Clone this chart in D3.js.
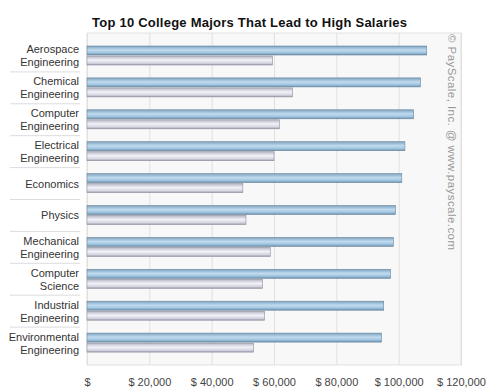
<!DOCTYPE html>
<html>
<head>
<meta charset="utf-8">
<script src="https://cdn.jsdelivr.net/npm/d3@7"></script>
<style>
  body { margin: 0; background: #fff; }
  text { font-family: "Liberation Sans", Arial, sans-serif; }
</style>
</head>
<body>
<svg width="490" height="392"></svg>
<script>
const majors = [
  ['Aerospace', 'Engineering'],
  ['Chemical', 'Engineering'],
  ['Computer', 'Engineering'],
  ['Electrical', 'Engineering'],
  ['Economics'],
  ['Physics'],
  ['Mechanical', 'Engineering'],
  ['Computer', 'Science'],
  ['Industrial', 'Engineering'],
  ['Environmental', 'Engineering']
]
const midCareer = [109000, 107000, 104800, 102000, 101000, 99000, 98300, 97400, 95200, 94500]
const starting = [59500, 65900, 61700, 60000, 50000, 51000, 58800, 56300, 57000, 53400]
const ticks = [0, 20000, 40000, 60000, 80000, 100000, 120000]

const svg = d3.select('svg')
const plotL = 87, plotR = 461, plotT = 33, plotB = 365

const defs = svg.append('defs')
const blue = defs.append('linearGradient').attr('id', 'blue').attr('x1', 0).attr('x2', 0).attr('y1', 0).attr('y2', 1)
blue.append('stop').attr('offset', '0%').attr('stop-color', '#7fa3bf')
blue.append('stop').attr('offset', '45%').attr('stop-color', '#c0dbef')
blue.append('stop').attr('offset', '75%').attr('stop-color', '#a2c5e0')
blue.append('stop').attr('offset', '100%').attr('stop-color', '#6d8fab')
const grey = defs.append('linearGradient').attr('id', 'grey').attr('x1', 0).attr('x2', 0).attr('y1', 0).attr('y2', 1)
grey.append('stop').attr('offset', '0%').attr('stop-color', '#b4b6c4')
grey.append('stop').attr('offset', '45%').attr('stop-color', '#f2f2f8')
grey.append('stop').attr('offset', '80%').attr('stop-color', '#d4d5e0')
grey.append('stop').attr('offset', '100%').attr('stop-color', '#9a9cab')

const x = d3.scaleLinear().domain([0, 120000]).range([plotL, plotR])
const y = d3.scaleBand().domain(d3.range(majors.length)).range([40, 359])

// plot background
svg.append('rect')
  .attr('x', plotL).attr('y', plotT)
  .attr('width', plotR - plotL).attr('height', plotB - plotT)
  .attr('fill', '#f8f8f8').attr('stroke', '#e2e2e2')

// grid + tick labels
svg.append('g')
  .attr('transform', `translate(0, ${plotB})`)
  .call(d3.axisBottom(x).tickValues(ticks)
    .tickSize(-(plotB - plotT))
    .tickFormat(d => d === 0 ? '$' : '$ ' + d3.format(',')(d)))
  .call(g => g.select('.domain').remove())
  .call(g => g.selectAll('line').attr('stroke', '#e0e0e0'))
  .call(g => g.selectAll('text')
    .attr('y', 13)
    .attr('fill', '#444')
    .attr('font-size', 11))

// row separators on the label side
svg.append('g').selectAll('line')
  .data(d3.range(1, majors.length))
  .join('line')
  .attr('x1', 10).attr('x2', 80)
  .attr('y1', i => y(i)).attr('y2', i => y(i))
  .attr('stroke', '#dcdcdc')

const barH = 9
svg.append('g').selectAll('rect')
  .data(midCareer)
  .join('rect')
  .attr('x', plotL)
  .attr('y', (d, i) => y(i) + 6)
  .attr('width', d => x(d) - plotL)
  .attr('height', barH)
  .attr('fill', 'url(#blue)')
  .attr('stroke', '#6a88a0').attr('stroke-width', 0.6)

svg.append('g').selectAll('rect')
  .data(starting)
  .join('rect')
  .attr('x', plotL)
  .attr('y', (d, i) => y(i) + 6 + barH + 1)
  .attr('width', d => x(d) - plotL)
  .attr('height', barH)
  .attr('fill', 'url(#grey)')
  .attr('stroke', '#8e90a0').attr('stroke-width', 0.6)

// category labels
const labels = svg.append('g').selectAll('text')
  .data(majors)
  .join('text')
  .attr('text-anchor', 'end')
  .attr('fill', '#333')
  .attr('font-size', 11)
  .attr('y', (d, i) => y(i) + y.bandwidth() / 2 + (d.length === 1 ? 4 : -2.5))
labels.selectAll('tspan')
  .data(d => d)
  .join('tspan')
  .attr('x', 79)
  .attr('dy', (d, i) => i === 0 ? 0 : 13)
  .text(d => d)

svg.append('text')
  .attr('x', 92).attr('y', 27)
  .attr('textLength', 315)
  .attr('lengthAdjust', 'spacing')
  .attr('font-family', 'DejaVu Sans')
  .attr('font-weight', 'bold')
  .attr('font-size', 13)
  .attr('fill', '#111')
  .text('Top 10 College Majors That Lead to High Salaries')

svg.append('text')
  .attr('transform', 'translate(448, 34) rotate(90)')
  .attr('textLength', 216)
  .attr('lengthAdjust', 'spacing')
  .attr('fill', '#999')
  .attr('font-size', 11.5)
  .text('© PayScale, Inc. @ www.payscale.com')
</script>
</body>
</html>
